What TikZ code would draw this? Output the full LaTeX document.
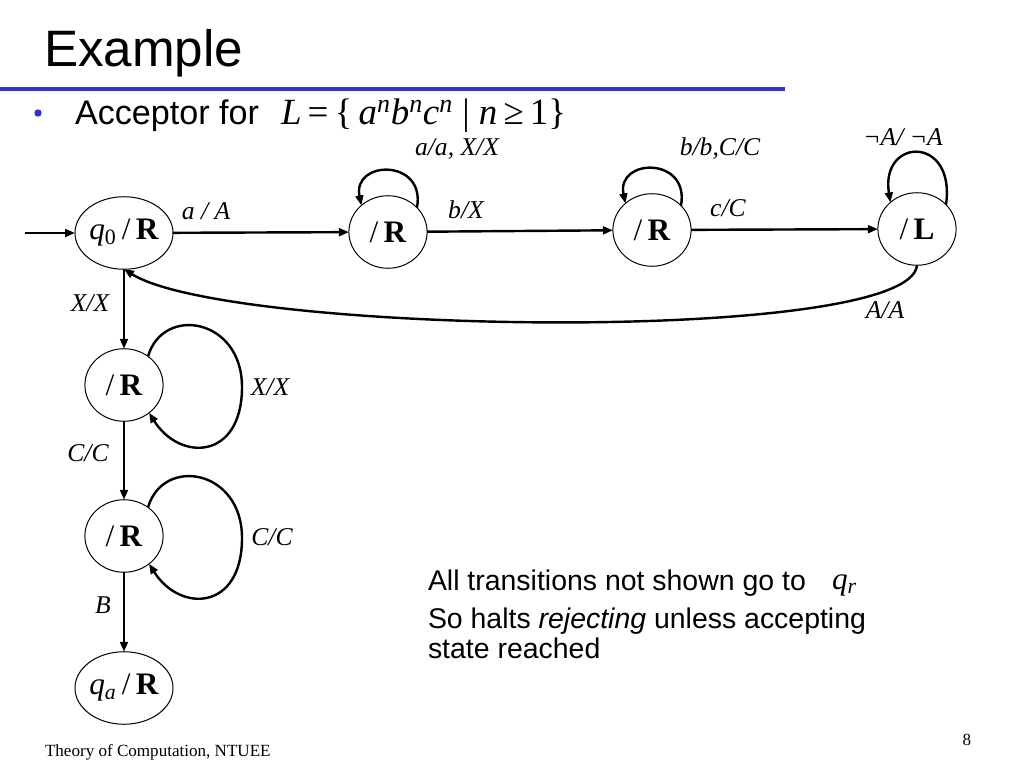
\documentclass[tikz,border=0pt]{standalone}
\usepackage{fontspec}
\setmainfont{Liberation Serif}
\newfontfamily\arial{Liberation Sans}
\usetikzlibrary{shapes.geometric,arrows.meta}
\definecolor{slideblue}{RGB}{51,51,204}

\begin{document}
\begin{tikzpicture}[x=0.703125pt, y=-0.703125pt,
  every node/.style={inner sep=0pt, outer sep=0pt},
  state/.style={ellipse, draw, line width=0.7pt, minimum width=55pt, minimum height=51pt, font=\fontsize{22}{22}\selectfont},
  tr/.style={line width=1.7pt, -{Triangle[length=7pt,width=5.5pt]}},
  lbl/.style={font=\fontsize{18}{18}\selectfont\itshape},
  body/.style={anchor=base west, font=\arial\fontsize{20}{24}\selectfont}]
\useasboundingbox (0,0) rectangle (1024,768);
\node[anchor=base west, font=\arial\fontsize{36}{36}\selectfont] (title) at (44,67) {Example};
\fill[slideblue] (0,87) rectangle (785,91);
\fill[slideblue] (38,113) circle (2.6pt);
\node[body, font=\arial\fontsize{24}{24}\selectfont] (acc) at (75,125) {Acceptor for};
\node[anchor=base west, font=\fontsize{26}{26}\selectfont] (lang) at (281,125) {\textit{L}\,=\,\{\,\textit{a}\textsuperscript{\textit{n}}\textit{b}\textsuperscript{\textit{n}}\textit{c}\textsuperscript{\textit{n}} | \textit{n}\,≥\,1\}};

\node[state] (q0) at (124,233) {\textit{q}\textsubscript{0}\,/\,\textbf{R}};
\node[state] (s1) at (388,232) {/\,\textbf{R}};
\node[state] (s2) at (652,230) {/\,\textbf{R}};
\node[state] (s3) at (917,229) {/\,\textbf{L}};
\node[state] (s4) at (124,385) {/\,\textbf{R}};
\node[state] (s5) at (124,536) {/\,\textbf{R}};
\node[state] (qa) at (124,688) {\textit{q}\textsubscript{\textit{a}}\,/\,\textbf{R}};
\coordinate (start) at (25,233);

\draw[tr] (start) -- (q0);
\draw[tr] (q0) -- (s1);
\draw[tr] (s1) -- (s2);
\draw[tr] (s2) -- (s3);
\draw[tr] (q0) -- (s4);
\draw[tr] (s4) -- (s5);
\draw[tr] (s5) -- (qa);
\draw[tr] (s1.40) .. controls (426,158) and (352,160) .. (s1.135);
\draw[tr] (s2.40) .. controls (690,156) and (616,158) .. (s2.135);
\draw[tr] (s3.40) .. controls (956,135) and (880,137) .. (s3.135);
\draw[tr] (s4.50) .. controls (163,305) and (242,318) .. (242,387) .. controls (242,460) and (180,462) .. (s4.-48);
\draw[tr] (s5.50) .. controls (163,456) and (242,469) .. (242,538) .. controls (242,611) and (180,613) .. (s5.-48);
\draw[tr] (s3.south) .. controls (910,345) and (230,335) .. (q0.south);

\node[lbl] (l1) at (206,211) {a / A};
\node[lbl] (l2) at (466,210) {b/X};
\node[lbl] (l3) at (728,208) {c/C};
\node[lbl] (l4) at (457,149) {a/a, X/X};
\node[lbl] (l5) at (720,149) {b/b,C/C};
\node[lbl] (l6) at (903,137) {¬A/ ¬A};
\node[lbl] (l7) at (885,310) {A/A};
\node[lbl] (l8) at (90,303) {X/X};
\node[lbl] (l9) at (270,387) {X/X};
\node[lbl] (l10) at (88,453) {C/C};
\node[lbl] (l11) at (272,537) {C/C};
\node[lbl] (l12) at (103,605) {B};

\node[body] (note1) at (428,590) {All transitions not shown go to};
\node[anchor=base west, font=\fontsize{22}{22}\selectfont] (qr) at (832,589) {\textit{q}\textsubscript{\textit{r}}};
\node[body] (note2) at (428,628) {So halts \textit{rejecting} unless accepting};
\node[body] (note3) at (428,658) {state reached};
\node[anchor=base west, font=\fontsize{12}{12}\selectfont] (foot) at (45,756) {Theory of Computation, NTUEE};
\node[anchor=base, font=\fontsize{12}{12}\selectfont] (page) at (967,745) {8};
\end{tikzpicture}
\end{document}
